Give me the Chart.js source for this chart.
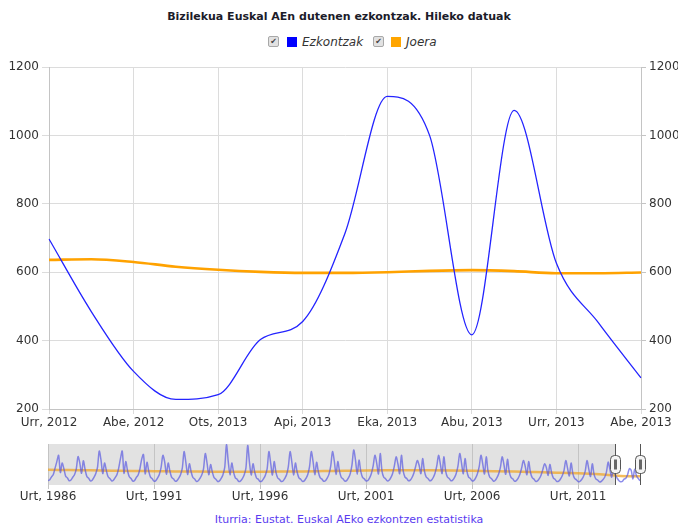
<!DOCTYPE html>
<html>
<head>
<meta charset="utf-8">
<script src="https://cdn.jsdelivr.net/npm/chart.js@4.4.1/dist/chart.umd.min.js"></script>
<style>
body{margin:0;background:#fff;font-family:"DejaVu Sans",Verdana,sans-serif;}
#wrap{position:relative;width:678px;height:524px;overflow:hidden;}
#title{position:absolute;left:0;top:10px;width:678px;text-align:center;font-weight:bold;font-size:11px;color:#1c1c2a;}
.lg{position:absolute;top:35px;font-size:12px;font-style:italic;color:#333;line-height:14px;}
.chk{position:absolute;top:36px;width:9px;height:9px;border:1px solid #a8a8a8;border-radius:2px;background:#e2e2e2;font-size:8px;line-height:9px;text-align:center;color:#444;}
.sw{position:absolute;top:37px;width:10px;height:10px;}
#main{position:absolute;left:0;top:55px;}
#nav{position:absolute;left:0;top:440px;}
#src{position:absolute;left:0;top:513px;width:698px;text-align:center;font-size:11px;color:#5a3cf0;}
</style>
</head>
<body>
<div id="wrap">
  <div id="title">Bizilekua Euskal AEn dutenen ezkontzak. Hileko datuak</div>
  <span class="chk" style="left:268px">✔</span>
  <span class="sw" style="left:287px;background:#0000ff"></span>
  <span class="lg" style="left:302px">Ezkontzak</span>
  <span class="chk" style="left:373px">✔</span>
  <span class="sw" style="left:391px;background:#ffa500"></span>
  <span class="lg" style="left:406px">Joera</span>
  <canvas id="main" width="678" height="385"></canvas>
  <canvas id="nav" width="678" height="70"></canvas>
  <div id="src">Iturria: Eustat. Euskal AEko ezkontzen estatistika</div>
</div>
<script>
// main view: Urr 2012 - Abe 2013
const months = ["Urr, 2012","Aza, 2012","Abe, 2012","Urt, 2013","Ots, 2013","Mar, 2013","Api, 2013",
  "Mai, 2013","Eka, 2013","Uzt, 2013","Abu, 2013","Ira, 2013","Urr, 2013","Aza, 2013","Abe, 2013"];
const ezkontzak = [697, 485, 310, 228, 242, 403, 456, 714, 1114, 1000, 417, 1073, 626, 451, 291];
const joera = [636, 638, 630, 616, 607, 601, 598, 598, 600, 604, 606, 603, 597, 597, 599];
const yMin = 200, yMax = 1200, yStep = 200;

// navigator: monthly, Urt 1986 - Abe 2013
const navStartYear = 1986;
const navEzkontzak = [
  300, 360, 560, 720, 1150, 1600, 2030, 850, 1500, 1100, 600, 480,   // 1986
  290, 340, 530, 700, 1100, 1940, 1500, 800, 1650, 1050, 580, 460,   // 1987
  280, 330, 520, 760, 1200, 2320, 1700, 780, 1500, 1000, 560, 450,   // 1988
  280, 320, 500, 700, 1150, 1800, 2320, 800, 1600, 980, 560, 440,    // 1989
  270, 310, 520, 680, 1100, 1750, 2080, 760, 1550, 950, 540, 430,    // 1990
  260, 300, 480, 720, 1200, 2030, 1600, 740, 1500, 930, 520, 420,    // 1991
  260, 300, 470, 700, 1150, 2280, 1550, 720, 1450, 900, 510, 410,    // 1992
  250, 290, 460, 680, 1100, 2150, 1500, 700, 1400, 880, 500, 400,    // 1993
  240, 280, 450, 700, 1200, 2750, 1600, 700, 1500, 880, 490, 390,    // 1994
  240, 280, 440, 680, 1150, 2700, 1550, 690, 1450, 870, 480, 390,    // 1995
  240, 270, 430, 670, 1100, 2280, 1500, 680, 1600, 860, 480, 380,    // 1996
  240, 270, 450, 700, 1250, 2280, 1550, 690, 1500, 870, 490, 390,    // 1997
  250, 280, 460, 720, 1250, 2280, 1600, 700, 1550, 890, 500, 400,    // 1998
  260, 290, 470, 740, 1300, 2280, 1650, 720, 1600, 910, 510, 410,    // 1999
  270, 300, 480, 760, 1350, 2390, 1700, 740, 1700, 930, 520, 420,    // 2000
  280, 310, 490, 780, 1300, 2030, 1500, 760, 2150, 950, 530, 430,    // 2001
  280, 320, 500, 790, 1300, 1920, 1450, 770, 2030, 960, 540, 440,    // 2002
  290, 330, 510, 800, 1250, 1670, 1350, 780, 1800, 970, 550, 450,    // 2003
  290, 330, 510, 800, 1300, 2030, 1450, 780, 1920, 970, 550, 450,    // 2004
  290, 330, 500, 790, 1300, 2150, 1500, 770, 1800, 960, 540, 440,    // 2005
  280, 320, 490, 770, 1250, 2030, 1450, 750, 1920, 940, 530, 430,    // 2006
  270, 310, 480, 750, 1200, 1920, 1400, 730, 1750, 910, 520, 420,    // 2007
  260, 300, 460, 710, 1150, 1670, 1300, 700, 1600, 870, 500, 400,    // 2008
  250, 280, 430, 670, 1050, 1440, 1200, 660, 1400, 820, 470, 380,    // 2009
  240, 270, 410, 630, 1000, 1670, 1150, 620, 1500, 780, 450, 360,    // 2010
  230, 250, 380, 580, 950, 1670, 1100, 580, 1450, 730, 420, 340,     // 2011
  220, 240, 360, 530, 880, 1560, 1050, 540, 1350, 697, 485, 310,     // 2012
  228, 242, 403, 456, 714, 1114, 1000, 417, 1073, 626, 451, 291      // 2013
];
// trend at each January, last one Abe 2013
const navJoera = [1040, 1020, 1000, 980, 960, 945, 930, 915, 910, 910, 910, 915, 930, 950,
  970, 990, 1000, 1005, 1000, 990, 970, 945, 915, 880, 845, 800, 730, 616, 599];
const navTickYears = [1986, 1991, 1996, 2001, 2006, 2011];
const navMax = 2800;

Chart.defaults.font.family = '"DejaVu Sans", Verdana, sans-serif';
Chart.defaults.font.size = 12;
Chart.defaults.color = "#333";

const GRID = "#dcdcdc";
const AXIS = "#c4c4c4";

new Chart(document.getElementById("main"), {
  type: "line",
  data: {
    labels: months,
    datasets: [
      { label: "Joera", data: joera, borderColor: "#ffa200", borderWidth: 2.6,
        pointRadius: 0, cubicInterpolationMode: "monotone", fill: false, order: 2 },
      { label: "Ezkontzak", data: ezkontzak, borderColor: "#2424ff", borderWidth: 1.3,
        pointRadius: 0, cubicInterpolationMode: "monotone", fill: false, order: 1 }
    ]
  },
  options: {
    responsive: false,
    animation: false,
    layout: { padding: { top: 12, left: 0, right: 0, bottom: 0 } },
    plugins: { legend: { display: false }, tooltip: { enabled: false } },
    scales: {
      x: {
        ticks: { autoSkip: false, maxRotation: 0, padding: 2,
          callback: (v, i) => i % 2 === 0 ? months[i] : "" },
        grid: { color: c => c.index % 2 === 0 ? GRID : "rgba(0,0,0,0)", tickLength: 5 },
        border: { color: AXIS },
        afterFit: s => { s.height = 31; }
      },
      y: {
        position: "left", min: yMin, max: yMax,
        ticks: { stepSize: yStep, padding: 3, callback: v => String(v) },
        grid: { color: GRID, tickLength: 7 },
        border: { color: AXIS },
        afterFit: s => { s.width = 49; }
      },
      y2: {
        position: "right", min: yMin, max: yMax,
        ticks: { stepSize: yStep, padding: 3, callback: v => String(v) },
        grid: { drawOnChartArea: false, color: AXIS, tickLength: 5 },
        border: { color: AXIS },
        afterFit: s => { s.width = 37; }
      }
    }
  }
});

// navigator
const selStart = navEzkontzak.length - ezkontzak.length;
const selEnd = navEzkontzak.length - 1;

const navBg = {
  id: "navBg",
  beforeDraw(chart){
    const { ctx, chartArea: a, scales: { x } } = chart;
    const x0 = x.getPixelForValue(selStart);
    ctx.save();
    ctx.fillStyle = "#e2e2e2";
    ctx.fillRect(a.left, a.top, a.right - a.left, a.bottom - a.top);
    ctx.fillStyle = "#fff";
    ctx.fillRect(x0, a.top, a.right - x0, a.bottom - a.top);
    ctx.restore();
  },
  afterDraw(chart){
    const { ctx, chartArea: a, scales: { x } } = chart;
    const cy = (a.top + a.bottom) / 2;
    ctx.save();
    [selStart, selEnd].forEach(v => {
      const xp = Math.round(x.getPixelForValue(v)) + 0.5;
      ctx.strokeStyle = "#555";
      ctx.lineWidth = 1;
      ctx.beginPath(); ctx.moveTo(xp, a.top); ctx.lineTo(xp, a.bottom); ctx.stroke();
      ctx.fillStyle = "#f4f4f4";
      ctx.beginPath(); ctx.roundRect(xp - 5, cy - 9, 10, 18, 4); ctx.fill(); ctx.stroke();
      ctx.fillStyle = "#666";
      ctx.fillRect(xp - 1.5, cy - 5, 3, 10);
    });
    ctx.restore();
  }
};

new Chart(document.getElementById("nav"), {
  type: "line",
  data: {
    datasets: [
      { data: navJoera.map((v, i) => ({ x: Math.min(i * 12, navEzkontzak.length - 1), y: v })),
        borderColor: "rgba(240,165,40,0.75)", borderWidth: 2.5, pointRadius: 0,
        cubicInterpolationMode: "monotone", order: 2 },
      { data: navEzkontzak.map((v, i) => ({ x: i, y: v })),
        borderColor: "rgba(80,80,225,0.65)", borderWidth: 1.5, pointRadius: 0,
        tension: 0.3, order: 1 }
    ]
  },
  options: {
    responsive: false,
    animation: false,
    layout: { padding: { top: 4, left: 48, right: 38, bottom: 0 } },
    plugins: { legend: { display: false }, tooltip: { enabled: false } },
    scales: {
      x: {
        type: "linear", min: 0, max: navEzkontzak.length - 1,
        afterBuildTicks: s => { s.ticks = navTickYears.map(y => ({ value: (y - navStartYear) * 12 })); },
        ticks: { padding: 1, callback: v => "Urt, " + (navStartYear + v / 12) },
        grid: { color: "#c4c4c4", tickLength: 4 },
        border: { display: false },
        afterFit: s => { s.height = 25; }
      },
      y: { display: false, min: 0, max: navMax }
    }
  },
  plugins: [navBg]
});
</script>
</body>
</html>
